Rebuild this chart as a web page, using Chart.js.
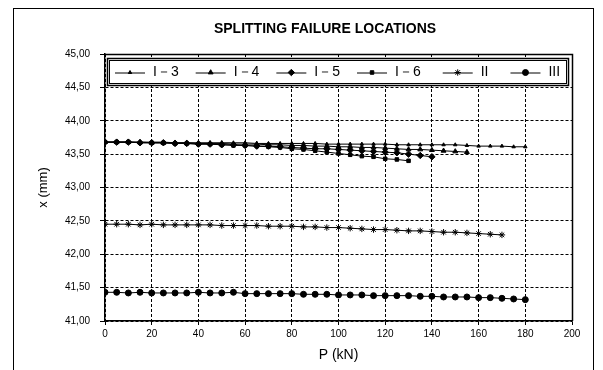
<!DOCTYPE html>
<html>
<head>
<meta charset="utf-8">
<script src="https://cdn.jsdelivr.net/npm/chart.js@4/dist/chart.umd.min.js"></script>
<style>
  html, body { margin: 0; padding: 0; background: #fff; }
  #wrap { width: 603px; height: 370px; }
</style>
</head>
<body>
<div id="wrap"><canvas id="chart" width="603" height="370"></canvas></div>
<script>
// ---- data ----
const TITLE = 'SPLITTING FAILURE LOCATIONS';
const X_TITLE = 'P (kN)';
const Y_TITLE = 'x (mm)';
const SERIES_NAMES = ['I－3', 'I－4', 'I－5', 'I－6', 'II', 'III'];
const LOAD = [0, 5, 10, 15, 20, 25, 30, 35, 40, 45, 50, 55, 60, 65, 70, 75, 80, 85, 90,
  95, 100, 105, 110, 115, 120, 125, 130, 135, 140, 145, 150, 155, 160, 165, 170, 175, 180];
const X_TICKS = [0, 20, 40, 60, 80, 100, 120, 140, 160, 180, 200];
const Y_TICKS = [41.0, 41.5, 42.0, 42.5, 43.0, 43.5, 44.0, 44.5, 45.0];

const I3 = [43.68, 43.68, 43.68, 43.68, 43.68, 43.68, 43.67, 43.67, 43.67, 43.67, 43.67, 43.67,
  43.67, 43.66, 43.66, 43.66, 43.66, 43.66, 43.66, 43.65, 43.65, 43.65, 43.65, 43.65, 43.65,
  43.64, 43.64, 43.64, 43.64, 43.64, 43.64, 43.63, 43.62, 43.62, 43.62, 43.61, 43.61];
const I4 = [43.68, 43.68, 43.68, 43.68, 43.67, 43.67, 43.67, 43.67, 43.66, 43.66, 43.66, 43.65,
  43.65, 43.65, 43.64, 43.64, 43.63, 43.63, 43.62, 43.62, 43.61, 43.61, 43.60, 43.60, 43.59,
  43.58, 43.57, 43.57, 43.56, 43.55, 43.54, 43.53];
const I5 = [43.68, 43.68, 43.68, 43.67, 43.67, 43.67, 43.66, 43.66, 43.65, 43.65, 43.64, 43.64,
  43.63, 43.62, 43.62, 43.61, 43.60, 43.59, 43.58, 43.58, 43.57, 43.56, 43.55, 43.54, 43.53,
  43.52, 43.50, 43.48, 43.46];
const I6 = [43.68, 43.68, 43.68, 43.67, 43.67, 43.67, 43.66, 43.66, 43.65, 43.65, 43.64, 43.63,
  43.63, 43.62, 43.61, 43.60, 43.58, 43.57, 43.55, 43.53, 43.51, 43.49, 43.47, 43.46, 43.43,
  43.42, 43.40];
const II = [42.45, 42.45, 42.45, 42.44, 42.45, 42.44, 42.44, 42.44, 42.44, 42.44, 42.43, 42.43,
  42.43, 42.43, 42.42, 42.42, 42.42, 42.41, 42.41, 42.40, 42.40, 42.39, 42.38, 42.37, 42.37,
  42.36, 42.35, 42.35, 42.34, 42.33, 42.33, 42.32, 42.31, 42.30, 42.29];
const III = [41.43, 41.43, 41.42, 41.43, 41.42, 41.42, 41.42, 41.42, 41.43, 41.42, 41.42, 41.43,
  41.41, 41.41, 41.41, 41.41, 41.41, 41.40, 41.40, 41.40, 41.39, 41.39, 41.39, 41.38, 41.38,
  41.38, 41.38, 41.37, 41.37, 41.36, 41.36, 41.36, 41.35, 41.35, 41.34, 41.33, 41.32];

const SERIES = [I3, I4, I5, I6, II, III];
const MARKERS = ['triangle', 'triangle', 'rectRot', 'rect', 'star', 'circle'];
const MARKER_SIZE = [2, 2.8, 3.2, 2.5, 3.2, 3];

const FONT = '"Liberation Sans", Arial, sans-serif';

// frame, title, top/right border and the boxed legend
const decor = {
  id: 'decor',
  beforeDraw(chart) {
    const ctx = chart.ctx;
    ctx.save();
    ctx.fillStyle = '#fff';
    ctx.fillRect(0, 0, chart.width, chart.height);
    ctx.strokeStyle = '#000';
    ctx.lineWidth = 1;
    ctx.strokeRect(13.5, 8.5, 580, 380);
    ctx.fillStyle = '#000';
    ctx.font = 'bold 14px ' + FONT;
    ctx.textAlign = 'center';
    ctx.textBaseline = 'middle';
    ctx.fillText(TITLE, 325, 29);
    ctx.restore();
  },
  afterDraw(chart) {
    const ctx = chart.ctx, a = chart.chartArea;
    ctx.save();
    ctx.strokeStyle = '#000';
    ctx.lineWidth = 1.5;
    ctx.beginPath();
    ctx.moveTo(a.left, a.top + 0.5); ctx.lineTo(a.right + 0.5, a.top + 0.5);
    ctx.lineTo(a.right + 0.5, a.bottom);
    ctx.stroke();

    // legend box
    const bx = a.left + 2, by = a.top + 4, bw = a.right - a.left - 6, bh = 27;
    ctx.fillStyle = '#fff';
    ctx.fillRect(bx, by, bw, bh);
    ctx.lineWidth = 1.5;
    ctx.strokeRect(bx + 0.5, by + 0.5, bw, bh);
    ctx.lineWidth = 1;
    ctx.strokeRect(bx + 2.5, by + 2.5, bw - 4, bh - 4);

    ctx.font = '14px ' + FONT;
    ctx.textBaseline = 'middle';
    ctx.textAlign = 'left';
    const cy = by + bh / 2 + 1;
    let x = bx + 8;
    chart.data.datasets.forEach((ds, i) => {
      ctx.strokeStyle = '#000';
      ctx.lineWidth = 1;
      ctx.beginPath();
      ctx.moveTo(x, cy + 0.5); ctx.lineTo(x + 30, cy + 0.5);
      ctx.stroke();
      ctx.fillStyle = '#000';
      if (Chart.helpers && Chart.helpers.drawPoint) {
        Chart.helpers.drawPoint(ctx, { pointStyle: ds.pointStyle, radius: ds.pointRadius, borderWidth: 1, rotation: 0 }, x + 15, cy);
      }
      const tx = x + 38;
      ctx.fillText(ds.label, tx, cy);
      x = tx + ctx.measureText(ds.label).width + (i < 3 ? 17 : 22);
    });
    ctx.restore();
  }
};

const datasets = SERIES.map((vals, i) => ({
  label: SERIES_NAMES[i],
  data: vals.map((v, k) => ({ x: LOAD[k], y: v })),
  showLine: true,
  borderColor: '#000',
  backgroundColor: '#000',
  borderWidth: 1,
  pointStyle: MARKERS[i],
  pointRadius: MARKER_SIZE[i],
  pointBorderWidth: 1,
  pointBorderColor: '#000',
  pointBackgroundColor: '#000'
}));

new Chart(document.getElementById('chart'), {
  type: 'scatter',
  data: { datasets },
  plugins: [decor],
  options: {
    responsive: false,
    animation: false,
    layout: { padding: { left: 0, right: 31, top: 54, bottom: 0 } },
    plugins: { legend: { display: false }, tooltip: { enabled: false } },
    scales: {
      x: {
        type: 'linear', min: 0, max: 200,
        afterFit: s => { s.height = 49; },
        afterBuildTicks: s => { s.ticks = X_TICKS.map(v => ({ value: v })); },
        ticks: { color: '#000', font: { family: FONT, size: 10 }, padding: 3, maxRotation: 0 },
        grid: { color: '#000', tickColor: '#000', tickLength: 4, lineWidth: 1 },
        border: { color: '#000', width: 1.5, dash: [3, 2] },
        title: { display: true, text: X_TITLE, color: '#000', font: { family: FONT, size: 14 }, padding: { top: 0, bottom: 6 } }
      },
      y: {
        type: 'linear', min: 41, max: 45,
        afterFit: s => { s.width = 105; },
        afterBuildTicks: s => { s.ticks = Y_TICKS.map(v => ({ value: v })); },
        ticks: {
          color: '#000', font: { family: FONT, size: 10 }, padding: 10,
          callback: v => v.toFixed(2).replace('.', ',')
        },
        grid: { color: '#000', tickColor: '#000', tickLength: 5, lineWidth: 1 },
        border: { color: '#000', width: 1.5, dash: [3, 2] },
        title: { display: true, text: Y_TITLE, color: '#000', font: { family: FONT, size: 13 }, padding: { top: 36, bottom: 0 } }
      }
    }
  }
});
</script>
</body>
</html>
